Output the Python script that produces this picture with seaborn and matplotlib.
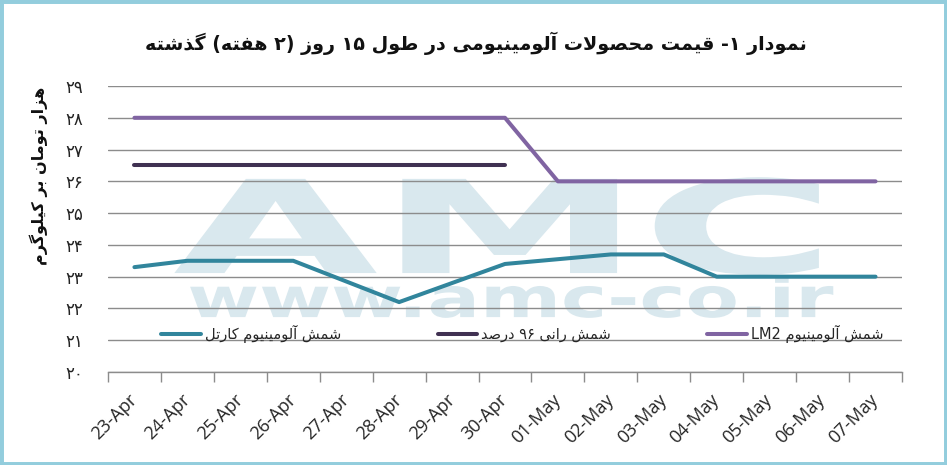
import re
import numpy as np
import pandas as pd
import seaborn as sns
import matplotlib.pyplot as plt
from matplotlib import patheffects
from matplotlib.patches import Rectangle
from matplotlib.transforms import Affine2D

# data
dates = ['23-Apr', '24-Apr', '25-Apr', '26-Apr', '27-Apr', '28-Apr', '29-Apr', '30-Apr',
         '01-May', '02-May', '03-May', '04-May', '05-May', '06-May', '07-May']
lm2 = [28, 28, 28, 28, 28, 28, 28, 28, 26, 26, 26, 26, 26, 26, 26]
rani96 = [26.5, 26.5, 26.5, 26.5, 26.5, 26.5, 26.5, 26.5,
          np.nan, np.nan, np.nan, np.nan, np.nan, np.nan, np.nan]
cartel = [23.3, 23.5, 23.5, 23.5, 22.85, 22.2, 22.8, 23.4, 23.55, 23.7, 23.7, 23.0, 23.0, 23.0, 23.0]
series_names = ['شمش آلومینیوم کارتل', 'شمش رانی ۹۶ درصد', 'شمش آلومینیوم LM2']
series_colors = ['#31859c', '#403152', '#8064a2']
y_ticks = [20, 21, 22, 23, 24, 25, 26, 27, 28, 29]
title = 'نمودار ۱- قیمت محصولات آلومینیومی در طول ۱۵ روز (۲ هفته) گذشته'
y_title = 'هزار تومان بر کیلوگرم'

# --- minimal persian shaping + rtl ordering (matplotlib has no bidi) ---
FORMS = {
    'ا': '\uFE8D\uFE8E', 'آ': '\uFE81\uFE82', 'د': '\uFEA9\uFEAA', 'ذ': '\uFEAB\uFEAC',
    'ر': '\uFEAD\uFEAE', 'ز': '\uFEAF\uFEB0', 'ژ': '\uFB8A\uFB8B', 'و': '\uFEED\uFEEE',
    'ب': '\uFE8F\uFE90\uFE91\uFE92', 'پ': '\uFB56\uFB57\uFB58\uFB59',
    'ت': '\uFE95\uFE96\uFE97\uFE98', 'ث': '\uFE99\uFE9A\uFE9B\uFE9C',
    'ج': '\uFE9D\uFE9E\uFE9F\uFEA0', 'چ': '\uFB7A\uFB7B\uFB7C\uFB7D',
    'ح': '\uFEA1\uFEA2\uFEA3\uFEA4', 'خ': '\uFEA5\uFEA6\uFEA7\uFEA8',
    'س': '\uFEB1\uFEB2\uFEB3\uFEB4', 'ش': '\uFEB5\uFEB6\uFEB7\uFEB8',
    'ص': '\uFEB9\uFEBA\uFEBB\uFEBC', 'ض': '\uFEBD\uFEBE\uFEBF\uFEC0',
    'ط': '\uFEC1\uFEC2\uFEC3\uFEC4', 'ظ': '\uFEC5\uFEC6\uFEC7\uFEC8',
    'ع': '\uFEC9\uFECA\uFECB\uFECC', 'غ': '\uFECD\uFECE\uFECF\uFED0',
    'ف': '\uFED1\uFED2\uFED3\uFED4', 'ق': '\uFED5\uFED6\uFED7\uFED8',
    'ک': '\uFB8E\uFB8F\uFB90\uFB91', 'گ': '\uFB92\uFB93\uFB94\uFB95',
    'ل': '\uFEDD\uFEDE\uFEDF\uFEE0', 'م': '\uFEE1\uFEE2\uFEE3\uFEE4',
    'ن': '\uFEE5\uFEE6\uFEE7\uFEE8', 'ه': '\uFEE9\uFEEA\uFEEB\uFEEC',
    'ی': '\uFBFC\uFBFD\uFBFE\uFBFF',
}


def shape(s):
    out = []
    i = 0
    while i < len(s):
        c = s[i]
        prev = s[i - 1] if i > 0 else ''
        nxt = s[i + 1] if i + 1 < len(s) else ''
        jp = len(FORMS.get(prev, '')) == 4
        if c == 'ل' and nxt == 'ا':
            out.append('\uFEFC' if jp else '\uFEFB')
            i += 2
            continue
        f = FORMS.get(c)
        if f is None:
            out.append(c)
        else:
            jn = len(f) == 4 and nxt in FORMS
            if jp and jn:
                out.append(f[3])
            elif jp:
                out.append(f[1])
            elif jn:
                out.append(f[2])
            else:
                out.append(f[0])
        i += 1
    return ''.join(out)


def rtl(s):
    runs = re.findall(r'[A-Za-z0-9\u06F0-\u06F9]+|.', shape(s))
    mirror = {'(': ')', ')': '('}
    return ''.join(mirror.get(r, r) for r in runs[::-1])


def fa_num(n):
    return str(n).translate(str.maketrans('0123456789', '۰۱۲۳۴۵۶۷۸۹'))


class Stretch(patheffects.AbstractPathEffect):
    # widen glyphs horizontally (watermark uses a very extended typeface)
    def __init__(self, sx):
        super().__init__()
        self.sx = sx

    def draw_path(self, renderer, gc, tpath, affine, rgbFace=None):
        renderer.draw_path(gc, tpath, Affine2D().scale(self.sx, 1) + affine, rgbFace)


sns.set_theme(style='white')
plt.rcParams['font.family'] = ['DejaVu Sans']

fig = plt.figure(figsize=(9.47, 4.65), dpi=100)
ax = fig.add_axes([0.114, 0.2, 0.8385, 0.615])

x = np.arange(len(dates))
for name, vals, col in zip(series_names, [cartel, rani96, lm2], series_colors):
    sns.lineplot(x=x, y=vals, ax=ax, color=col, lw=2.9, label=rtl(name),
                 solid_capstyle='round', zorder=3)

# watermark
wm = '#d9e8ee'
ax.text(0.082, 0.346, 'AMC', transform=ax.transAxes, fontsize=93, weight='bold',
        color=wm, ha='left', va='baseline', zorder=1, path_effects=[Stretch(2.05)])
ax.text(0.1, 0.192, 'www.amc-co.ir', transform=ax.transAxes, fontsize=40, weight='bold',
        color=wm, ha='left', va='baseline', zorder=1, path_effects=[Stretch(1.4)])

ax.set_xlim(-0.5, len(dates) - 0.5)
ax.set_ylim(20, 29)
ax.set_axisbelow('line')
ax.yaxis.grid(True, color='#8c8c8c', lw=1)
ax.xaxis.grid(False)
for s in ['left', 'right', 'top']:
    ax.spines[s].set_visible(False)
ax.spines['bottom'].set_color('#8c8c8c')
ax.spines['bottom'].set_linewidth(1)

ax.set_xticks(np.arange(-0.5, len(dates), 1))
ax.set_xticks(x, minor=True)
ax.set_xticklabels(dates, minor=True, rotation=45, ha='right', va='center',
                   rotation_mode='anchor', fontsize=13, family='Open Sans')
ax.tick_params(axis='x', which='major', length=7, width=1, color='#8c8c8c',
               labelbottom=False, bottom=True)
ax.tick_params(axis='x', which='minor', length=0, pad=18)
ax.set_yticks(y_ticks)
ax.set_yticklabels([fa_num(v) for v in y_ticks], fontsize=12, color='#222222')
ax.tick_params(axis='y', length=0, pad=18)
ax.set_xlabel('')
ax.set_ylabel(rtl(y_title), fontsize=11.5, weight='bold', color='#111111')
ax.yaxis.set_label_coords(-0.075, 0.685)

ax.legend(loc='center', bbox_to_anchor=(0.522, 0.133), ncol=3, frameon=False,
          fontsize=10.5, handlelength=2.7, handletextpad=0.3, columnspacing=6.6)

fig.text(476 / 947, 1 - 43 / 465, rtl(title), ha='center', va='center',
         fontsize=13.8, weight='bold', color='#111111')
fig.patches.append(Rectangle((0, 0), 1, 1, transform=fig.transFigure, fill=False,
                             edgecolor='#93cddd', lw=5))

fig.savefig('out.png', dpi=100)
